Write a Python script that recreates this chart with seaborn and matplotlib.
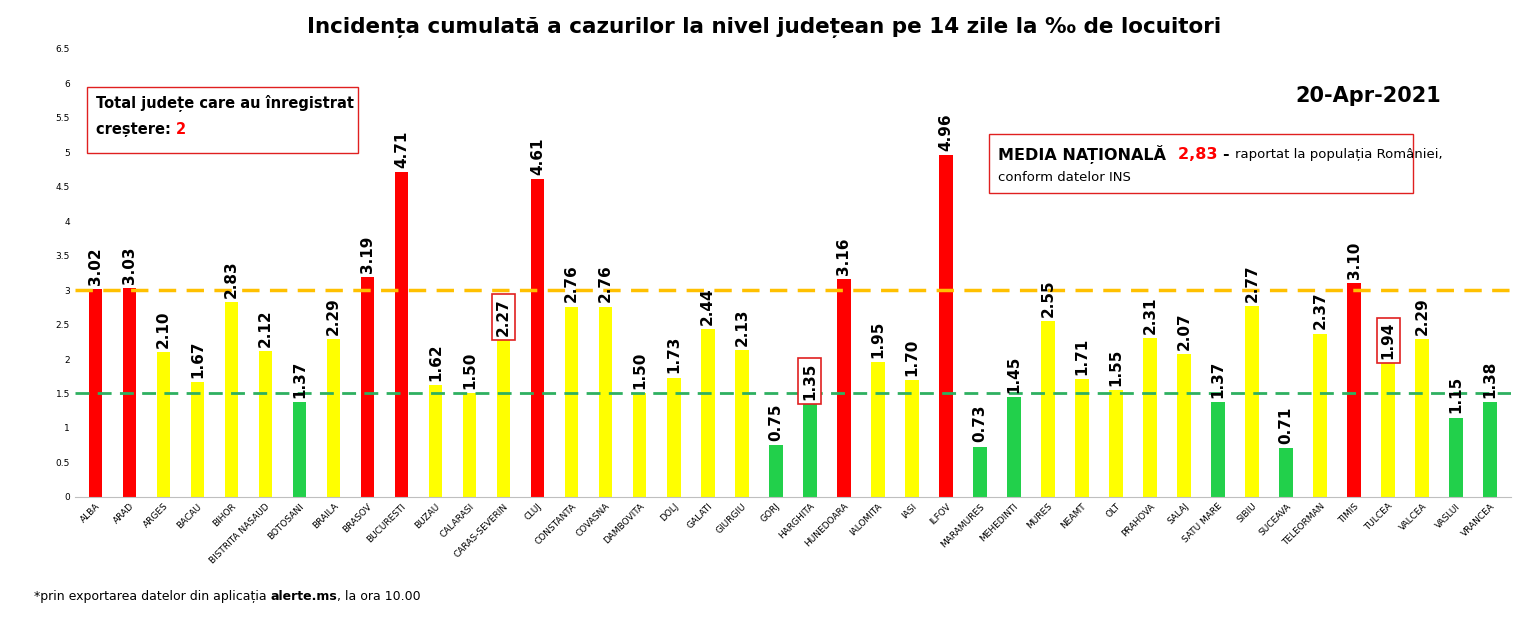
import matplotlib
matplotlib.use("Agg")
import matplotlib.pyplot as plt
import seaborn as sns
import pandas as pd
from matplotlib.patches import Rectangle

# Data
counties = ["ALBA", "ARAD", "ARGES", "BACAU", "BIHOR", "BISTRITA NASAUD", "BOTOSANI",
            "BRAILA", "BRASOV", "BUCURESTI", "BUZAU", "CALARASI", "CARAS-SEVERIN", "CLUJ",
            "CONSTANTA", "COVASNA", "DAMBOVITA", "DOLJ", "GALATI", "GIURGIU", "GORJ",
            "HARGHITA", "HUNEDOARA", "IALOMITA", "IASI", "ILFOV", "MARAMURES", "MEHEDINTI",
            "MURES", "NEAMT", "OLT", "PRAHOVA", "SALAJ", "SATU MARE", "SIBIU", "SUCEAVA",
            "TELEORMAN", "TIMIS", "TULCEA", "VALCEA", "VASLUI", "VRANCEA"]
incidence = [3.02, 3.03, 2.10, 1.67, 2.83, 2.12, 1.37, 2.29, 3.19, 4.71, 1.62, 1.50, 2.27,
             4.61, 2.76, 2.76, 1.50, 1.73, 2.44, 2.13, 0.75, 1.35, 3.16, 1.95, 1.70, 4.96,
             0.73, 1.45, 2.55, 1.71, 1.55, 2.31, 2.07, 1.37, 2.77, 0.71, 2.37, 3.10, 1.94,
             2.29, 1.15, 1.38]
boxed = ["CARAS-SEVERIN", "HARGHITA", "TULCEA"]
yticks = [0, 0.5, 1, 1.5, 2, 2.5, 3, 3.5, 4, 4.5, 5, 5.5, 6, 6.5]


def color_for(v):
    if v >= 3:
        return "#FF0000"
    if v >= 1.5:
        return "#FFFF00"
    return "#22D04B"


def chain_text(fig, x, y, parts):
    # draw text pieces one after another on the same line
    renderer = fig.canvas.get_renderer()
    inv = fig.transFigure.inverted()
    for s, kw in parts:
        t = fig.text(x, y, s, va="center", **kw)
        bb = t.get_window_extent(renderer)
        x = inv.transform((bb.x1, bb.y0))[0]


df = pd.DataFrame({"county": counties, "value": incidence})
palette = [color_for(v) for v in incidence]

fig = plt.figure(figsize=(15.29, 6.18), dpi=100)
ax = fig.add_axes([0.049, 0.196, 0.939, 0.725])
sns.barplot(data=df, x="county", y="value", hue="county", palette=palette,
            legend=False, width=0.4, saturation=1, ax=ax)

ax.axhline(3, color="#FFC000", ls=(0, (5, 3)), lw=2.5, zorder=3)
ax.axhline(1.5, color="#2EB060", ls=(0, (5, 3)), lw=2, zorder=3)

for i, (c, v) in enumerate(zip(counties, incidence)):
    t = ax.text(i, v + 0.06, f"{v:.2f}", rotation=90, ha="center", va="bottom",
                fontsize=11, fontweight="bold", zorder=5)
    if c in boxed:
        t.set_bbox(dict(facecolor="white", edgecolor="#E02020", lw=1.2, pad=3))

ax.set_ylim(0, 6.5)
ax.set_xlim(-0.6, len(counties) - 0.4)
ax.set_yticks(yticks)
ax.set_yticklabels([f"{t:g}" for t in yticks], fontsize=6.5)
ax.tick_params(axis="x", labelsize=6.5, rotation=45, length=0)
ax.tick_params(axis="y", length=0)
for lab in ax.get_xticklabels():
    lab.set_ha("right")
    lab.set_rotation_mode("anchor")
ax.set_xlabel("")
ax.set_ylabel("")
for s in ["top", "right", "left"]:
    ax.spines[s].set_visible(False)
ax.spines["bottom"].set_color("#BFBFBF")

fig.text(0.5, 0.955, "Incidența cumulată a cazurilor la nivel județean pe 14 zile la ‰ de locuitori",
         ha="center", va="center", fontsize=15.5, fontweight="bold")
fig.text(0.895, 0.845, "20-Apr-2021", ha="center", va="center", fontsize=15, fontweight="bold")

# left info box
fig.patches.append(Rectangle((0.057, 0.752), 0.177, 0.108, transform=fig.transFigure,
                             facecolor="white", edgecolor="#E02020", lw=1))
fig.text(0.063, 0.832, "Total județe care au înregistrat", fontsize=10.5, fontweight="bold", va="center")
chain_text(fig, 0.063, 0.79, [("creștere: ", dict(fontsize=10.5, fontweight="bold")),
                              ("2", dict(fontsize=10.5, fontweight="bold", color="#FF0000"))])

# right info box
fig.patches.append(Rectangle((0.647, 0.688), 0.13 + 0.147, 0.095, transform=fig.transFigure,
                             facecolor="white", edgecolor="#E02020", lw=1))
chain_text(fig, 0.653, 0.75, [("MEDIA NAȚIONALĂ  ", dict(fontsize=11.5, fontweight="bold")),
                              ("2,83 ", dict(fontsize=11.5, fontweight="bold", color="#FF0000")),
                              ("- ", dict(fontsize=11.5, fontweight="bold")),
                              ("raportat la populația României,", dict(fontsize=9.5))])
fig.text(0.653, 0.713, "conform datelor INS", fontsize=9.5, va="center")

chain_text(fig, 0.022, 0.035, [("*prin exportarea datelor din aplicația ", dict(fontsize=9)),
                               ("alerte.ms", dict(fontsize=9, fontweight="bold")),
                               (", la ora 10.00", dict(fontsize=9))])

fig.savefig("out.png", dpi=100)
